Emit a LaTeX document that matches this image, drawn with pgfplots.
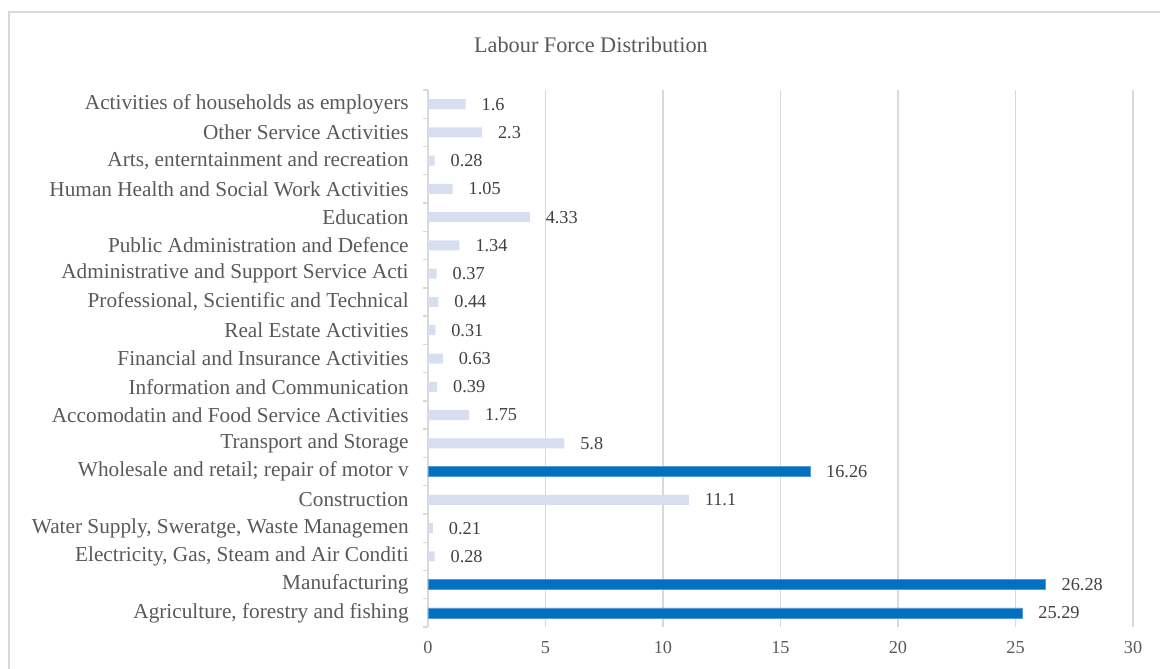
\documentclass[border=0pt]{standalone}
\usepackage{fontspec}
\setmainfont{Liberation Serif}
\usepackage{pgfplots}
\pgfplotsset{compat=1.18}
\usepackage{pgfplotstable}
\definecolor{darkbar}{RGB}{0,112,192}
\definecolor{darkedge}{RGB}{91,155,213}
\definecolor{lightbar}{RGB}{214,222,240}
\definecolor{txt}{RGB}{89,89,89}
\definecolor{lbl}{RGB}{64,64,64}
\definecolor{gridc}{RGB}{217,217,217}

\pgfplotstableread{
y x
0 25.29
1 26.28
5 16.26
}\darkdata
\pgfplotstableread{
y x
2 0.28
3 0.21
4 11.1
6 5.8
7 1.75
8 0.39
9 0.63
10 0.31
11 0.44
12 0.37
13 1.34
14 4.33
15 1.05
16 0.28
17 2.3
18 1.6
}\lightdata

\begin{document}
\begin{tikzpicture}
\path[use as bounding box] (-321pt,-30.75pt) rectangle (549pt,470.25pt);
\draw[gridc, line width=1pt] (-314.25pt,-40pt) -- (-314.25pt,461.25pt) -- (560pt,461.25pt);
\node[text=txt, font=\fontsize{16.7}{20}\selectfont] at (122.25pt,436.5pt) {Labour Force Distribution};
\begin{axis}[
  at={(0pt,0pt)}, anchor=south west,
  scale only axis, width=528.75pt, height=402.75pt,
  xmin=0, xmax=30, ymin=-0.5, ymax=18.5,
  xbar, bar width=7.5pt, bar shift=0pt,
  axis lines*=left,
  x axis line style={draw=none},
  y axis line style={draw=gridc, line width=1pt},
  xtick={0,5,...,30},
  xmajorgrids, major grid style={gridc, line width=1.1pt},
  major tick length=0pt,
  ytick={0,...,18},
  minor ytick={-0.5,0.5,...,18.5},
  minor tick length=3.75pt,
  tick align=outside,
  minor tick style={gridc, line width=1pt},
  yticklabels={
    {Agriculture, forestry and fishing},
    {Manufacturing},
    {Electricity, Gas, Steam and Air Conditi},
    {Water Supply, Sweratge, Waste Managemen},
    {Construction},
    {Wholesale and retail; repair of motor v},
    {Transport and Storage},
    {Accomodatin and Food Service Activities},
    {Information and Communication},
    {Financial and Insurance Activities},
    {Real Estate Activities},
    {Professional, Scientific and Technical},
    {Administrative and Support Service Acti},
    {Public Administration and Defence},
    {Education},
    {Human Health and Social Work Activities},
    {Arts, enterntainment and recreation},
    {Other Service Activities},
    {Activities of households as employers}},
  yticklabel style={text=txt, font=\fontsize{15.95}{18}\selectfont, xshift=-11pt},
  xticklabel style={text=txt, font=\fontsize{13.7}{16}\selectfont, yshift=-7pt},
  /pgf/number format/assume math mode=true,
  nodes near coords,
  nodes near coords style={anchor=west, xshift=8.5pt, text=lbl, font=\fontsize{13.7}{16}\selectfont},
  clip=false,
]
\addplot[fill=lightbar, draw=none] table[x=x, y=y] {\lightdata};
\addplot[fill=darkbar, draw=darkedge, line width=0.5pt] table[x=x, y=y] {\darkdata};
\end{axis}
\end{tikzpicture}
\end{document}
